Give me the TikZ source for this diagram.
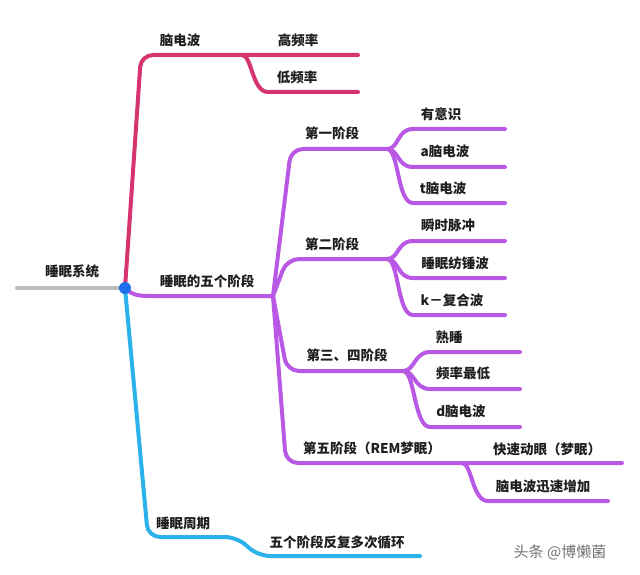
\documentclass[tikz,border=0pt]{standalone}
\usepackage{fontspec}
\setmainfont{Noto Sans CJK SC}
\definecolor{cred}{RGB}{214,52,112}
\definecolor{cpur}{RGB}{186,88,230}
\definecolor{cblu}{RGB}{44,178,234}
\definecolor{cgry}{RGB}{188,188,188}
\definecolor{cdot}{RGB}{28,112,236}
\begin{document}
\begin{tikzpicture}[x=1pt,y=-1pt,
  lbl/.style={font=\bfseries\fontsize{13.5}{15}\selectfont, text=black!88, inner sep=0},
  br/.style={line width=4pt, line cap=round, rounded corners=12pt},
  lf/.style={line width=4pt, line cap=round}
]
\fill[white] (0,0) rectangle (640,575);
\useasboundingbox (0,0) rectangle (640,575);
% coordinates
\coordinate (r0) at (17,288);
\coordinate (root) at (125,288);
\coordinate (rc) at (141,55);
\coordinate (rA) at (358,55);
\coordinate (rs) at (242,55);
\coordinate (rb) at (268,92);
\coordinate (rB) at (358,92);
\coordinate (pm) at (152,296);
\coordinate (pj) at (273,296);
\coordinate (p1c) at (291,149); \coordinate (p1) at (387,149);
\coordinate (p2c) at (287,259); \coordinate (p2) at (387,259);
\coordinate (p3c) at (287,371); \coordinate (p3) at (403,371);
\coordinate (p5c) at (286,463); \coordinate (p5) at (622,463);
\coordinate (p5s) at (462,463); \coordinate (p5b) at (488,501); \coordinate (p5B) at (608,501);
\foreach \n/\y in {a/129,b/167,c/203}{\coordinate (l1\n) at (413,\y); \coordinate (e1\n) at (505,\y);}
\foreach \n/\y in {a/241,b/278,c/315}{\coordinate (l2\n) at (413,\y); \coordinate (e2\n) at (505,\y);}
\foreach \n/\y in {a/352,b/389,c/427}{\coordinate (l3\n) at (430,\y); \coordinate (e3\n) at (520,\y);}
\coordinate (bc) at (148,537); \coordinate (b1) at (237,537); \coordinate (b2) at (258,556); \coordinate (bE) at (420,556);
% lines
\draw[lf, cgry] (r0) -- (root);
\draw[br, cred] (root) -- (rc) -- (rA);
\draw[lf, cred] (rs) .. controls +(10,0) and +(-16,0) .. (rb) -- (rB);
\draw[lf, cpur] (root) .. controls +(8,8) and +(-12,0) .. (pm) -- (pj);
\draw[br, cpur] (pj) -- (p1c) -- (p1);
\draw[br, cpur] (pj) -- (p2c) -- (p2);
\draw[br, cpur] (pj) -- (p3c) -- (p3);
\draw[br, cpur] (pj) -- (p5c) -- (p5);
\foreach \n in {a,b,c}{
  \draw[lf, cpur] (p1) .. controls +(12,0) and +(-16,0) .. (l1\n) -- (e1\n);
  \draw[lf, cpur] (p2) .. controls +(12,0) and +(-16,0) .. (l2\n) -- (e2\n);
  \draw[lf, cpur] (p3) .. controls +(12,0) and +(-16,0) .. (l3\n) -- (e3\n);
}
\draw[lf, cpur] (p5s) .. controls +(10,0) and +(-16,0) .. (p5b) -- (p5B);
\draw[br, cblu] (root) -- (bc) -- (b1) -- (b2) -- (bE);
\fill[cdot] (root) circle (6);
% labels
\node[lbl] (t0) at (72,271) {睡眠系统};
\node[lbl] (t1) at (180,40) {脑电波};
\node[lbl] (t11) at (298,40) {高频率};
\node[lbl] (t12) at (297,77) {低频率};
\node[lbl] (t2) at (207,281) {睡眠的五个阶段};
\node[lbl] (s1) at (332,133) {第一阶段};
\node[lbl] (s1a) at (441,114) {有意识};
\node[lbl] (s1b) at (445,151) {a脑电波};
\node[lbl] (s1c) at (443,188) {t脑电波};
\node[lbl] (s2) at (332,244) {第二阶段};
\node[lbl] (s2a) at (448,225) {瞬时脉冲};
\node[lbl] (s2b) at (455,263) {睡眠纺锤波};
\node[lbl] (s2c) at (452,300) {k－复合波};
\node[lbl] (s3) at (347,355) {第三、四阶段};
\node[lbl] (s3a) at (449,337) {熟睡};
\node[lbl] (s3b) at (463,373) {频率最低};
\node[lbl] (s3c) at (461,411) {d脑电波};
\node[lbl] (s5) at (372,448) {第五阶段（REM梦眠）};
\node[lbl] (s5a) at (547,449) {快速动眼（梦眠）};
\node[lbl] (s5b) at (543,486) {脑电波迅速增加};
\node[lbl] (t3) at (183,523) {睡眠周期};
\node[lbl] (t31) at (337,542) {五个阶段反复多次循环};
\node[font=\fontsize{15}{17}\selectfont, text=black!55, inner sep=0] (wm) at (560,552) {头条 @博懒菌};
\end{tikzpicture}
\end{document}
